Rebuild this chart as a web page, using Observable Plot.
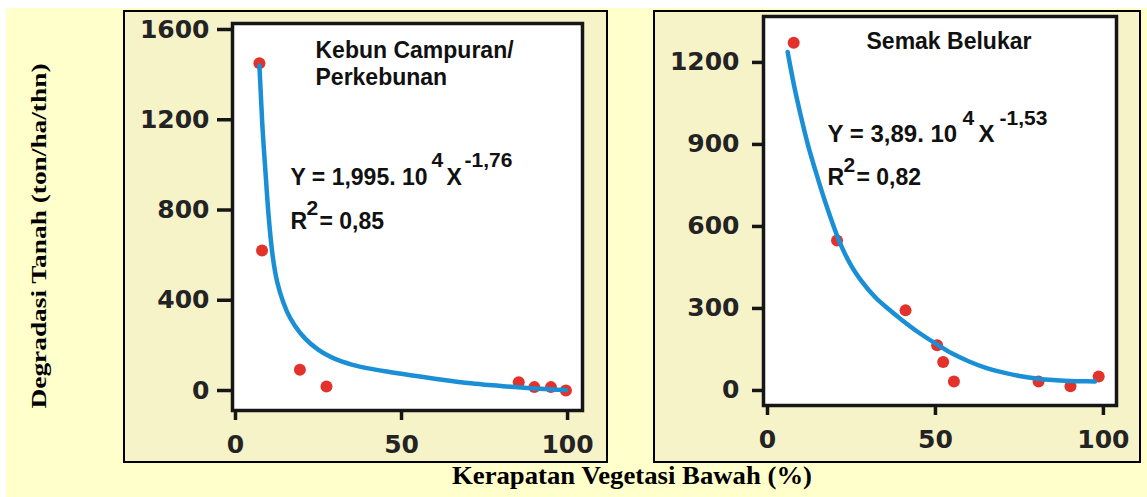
<!DOCTYPE html>
<html>
<head>
<meta charset="utf-8">
<script src="https://cdn.jsdelivr.net/npm/d3@7"></script>
<script src="https://cdn.jsdelivr.net/npm/@observablehq/plot@0.6"></script>
<style>
html,body{margin:0;padding:0;background:#ffffff;width:1147px;height:497px;overflow:hidden;position:relative;}
#bg{position:absolute;left:6px;top:8px;width:1141px;height:489px;background:#FFFFCC;}
.panel{position:absolute;top:10px;height:449px;border:2px solid #000;background:#F6F3C8;}
#p1{left:123px;width:481px;}
#p2{left:653px;width:484px;}
.panel svg{display:block;}
.lab{position:absolute;left:0;top:0;font-family:"Liberation Serif","Times New Roman",serif;font-weight:bold;color:#000;white-space:nowrap;line-height:1;}
#ylab{font-size:20px;}
#xlab{font-size:26px;}
</style>
</head>
<body>
<div id="bg"></div>
<div class="panel" id="p1"></div>
<div class="panel" id="p2"></div>
<div class="lab" id="ylab">Degradasi Tanah (ton/ha/thn)</div>
<div class="lab" id="xlab">Kerapatan Vegetasi Bawah (%)</div>
<script>
// ---- data ----
const xTicks = [0, 50, 100];
const kebunYTicks = [0, 400, 800, 1200, 1600];
const semakYTicks = [0, 300, 600, 900, 1200];

// Kebun Campuran / Perkebunan: observed points
const kebunX = [7.2, 8.0, 19.4, 27.4, 85.3, 90, 95, 99.5];
const kebunY = [1450, 621, 92, 18, 37, 15, 15, 0];
// fitted curve as drawn
const kebunFitX = [7.2, 8.0, 9.0, 10.0, 11.0, 12.0, 13.5, 15.5, 18, 21, 25, 30, 35, 40, 45, 50, 55, 60, 65, 70, 75, 80, 85, 90, 95, 99.5];
const kebunFitY = [1441, 1200, 975, 770, 620, 520, 430, 350, 285, 230, 180, 140, 115, 98, 85, 74, 63, 52, 42, 33, 26, 20, 14, 9, 5, 2];

// Semak Belukar: observed points
const semakX = [7.8, 20.7, 41.1, 50.5, 52.3, 55.5, 80.7, 90.2, 98.6];
const semakY = [1272, 549, 293, 165, 104, 33, 33, 15, 51];
// fitted curve as drawn
const semakFitX = [6, 8, 10, 12, 14, 16, 18, 20, 22, 25, 28, 32, 36, 40, 45, 50, 55, 60, 65, 70, 75, 80, 85, 90, 95, 97.5];
const semakFitY = [1238, 1110, 1000, 900, 815, 735, 660, 590, 528, 455, 400, 342, 298, 258, 212, 172, 135, 106, 83, 66, 53, 44, 38, 35, 33.5, 33];

const kebunTitle = ["Kebun Campuran/", "Perkebunan"];
const kebunEq = ["Y = 1,995. 10", "4", "X", "-1,76"];
const kebunR2 = ["R", "2", "= 0,85"];
const semakTitle = ["Semak Belukar"];
const semakEq = ["Y = 3,89. 10", "4", "X", "-1,53"];
const semakR2 = ["R", "2", "= 0,82"];

// ---- drawing ----
const RED = "#e2322b";
const BLUE = "#1b8fd6";
const INK = "#161616";

const pts = (xs, ys) => xs.map((x, i) => ({x, y: ys[i]}));

function note(t, dx, dy, fs = 23) {
  return Plot.text([t], {
    frameAnchor: "top-left", dx, dy, textAnchor: "start", lineAnchor: "bottom",
    fontSize: fs, fontWeight: "bold", fontFamily: "Liberation Sans, Arial, sans-serif", fill: "#111"
  });
}

function panel(o) {
  const tickText = {fontSize: 25, fontWeight: "bold", fontFamily: "DejaVu Sans, Verdana, sans-serif", fill: "#232323",
    stroke: INK, strokeWidth: 3.5, tickFormat: d3.format("d"), label: null};
  return Plot.plot({
    width: o.w, height: o.h,
    marginLeft: o.ml, marginRight: o.mr, marginTop: o.mt, marginBottom: o.mb,
    style: {background: "transparent", overflow: "visible"},
    x: {domain: o.xd},
    y: {domain: o.yd},
    marks: [
      Plot.frame({fill: "white"}),
      Plot.dot(o.points, {x: "x", y: "y", r: 6, fill: RED}),
      Plot.line(o.fit, {x: "x", y: "y", stroke: BLUE, strokeWidth: 4.5, curve: "monotone-x"}),
      Plot.frame({stroke: INK, strokeWidth: 3.5}),
      Plot.axisY({ticks: o.yTicks, tickSize: o.yts, tickPadding: o.ytp, ...tickText}),
      Plot.axisX({ticks: xTicks, tickSize: 10, tickPadding: 15, ...tickText}),
      ...o.notes
    ]
  });
}

const left = panel({
  w: 481, h: 449, ml: 107, mr: 24, mt: 11, mb: 51,
  xd: [-0.9, 104.5], yd: [-88.6, 1626.6],
  yTicks: kebunYTicks, yts: 15, ytp: 8,
  points: pts(kebunX, kebunY), fit: pts(kebunFitX, kebunFitY),
  notes: [
    note(kebunTitle[0], 83, 34),
    note(kebunTitle[1], 83, 61),
    note(kebunEq[0], 58, 161),
    note(kebunEq[1], 199, 143, 21),
    note(kebunEq[2], 214, 161),
    note(kebunEq[3], 232, 143, 21),
    note(kebunR2[0], 58, 205),
    note(kebunR2[1], 74, 191, 21),
    note(kebunR2[2], 87, 205)
  ]
});

const right = panel({
  w: 484, h: 449, ml: 108, mr: 23, mt: 4, mb: 56,
  xd: [-1.19, 103.9], yd: [-55, 1368],
  yTicks: semakYTicks, yts: 11, ytp: 13,
  points: pts(semakX, semakY), fit: pts(semakFitX, semakFitY),
  notes: [
    note(semakTitle[0], 103, 32),
    note(semakEq[0], 64, 125, 24),
    note(semakEq[1], 199, 108, 21),
    note(semakEq[2], 215, 125, 24),
    note(semakEq[3], 236, 108, 21),
    note(semakR2[0], 64, 168),
    note(semakR2[1], 80, 155, 21),
    note(semakR2[2], 93, 168)
  ]
});

document.getElementById("p1").appendChild(left);
document.getElementById("p2").appendChild(right);

function place(el, cx, cy, target, rot) {
  const w = el.getBoundingClientRect().width;
  const s = target / w;
  el.style.left = cx + "px";
  el.style.top = cy + "px";
  el.style.transform = `translate(-50%,-50%) rotate(${rot}deg) scaleX(${s})`;
}
place(document.getElementById("ylab"), 39, 235.5, 345, -90);
place(document.getElementById("xlab"), 632, 476, 360, 0);
</script>
</body>
</html>
